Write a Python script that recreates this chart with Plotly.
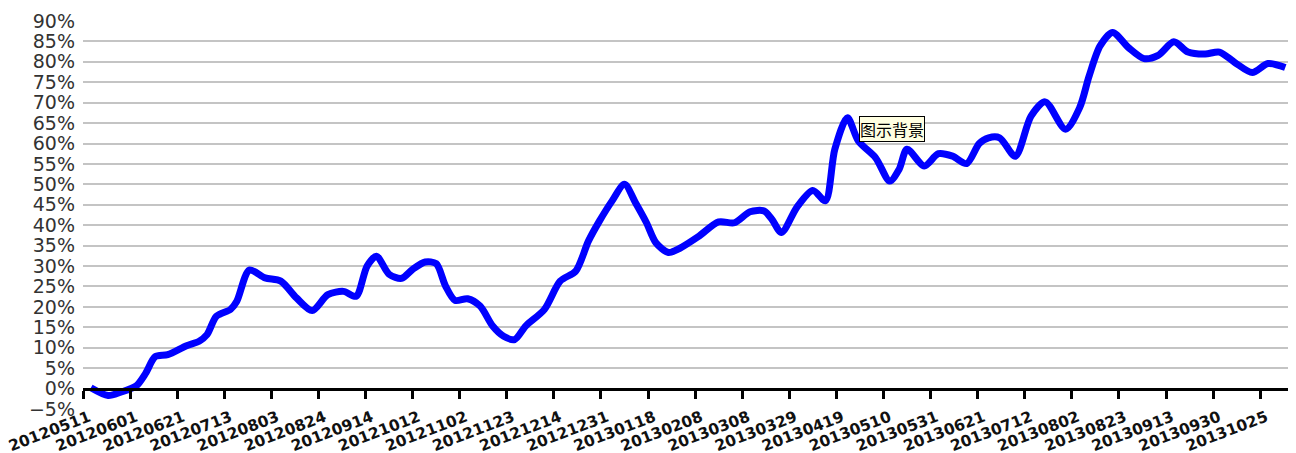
import plotly.graph_objects as go

# Trading-day index of each sampled point and its cumulative return (%)
day_index = [2.5, 8, 12, 17, 20, 23, 27, 33, 37, 39.5, 42.5, 47, 49, 53, 58, 63, 68, 73, 78, 83,
             87, 90.5, 93.5, 97.5, 101.5, 105, 109, 112.5, 115.5, 118.5, 122.5, 126.5, 130.5, 134,
             137.5, 141, 147, 152, 157, 161, 164.5, 168.5, 172.5, 176, 179.5, 182.5, 186.5, 190,
             196, 202.5, 207.5, 212.5, 217, 219.5, 222.5, 227.5, 232.5, 236.5, 239.5, 243.5, 247,
             252.5, 257, 260, 262.5, 268, 272.5, 277, 281.5, 285.5, 288.5, 292, 297, 302, 306.5,
             313, 317.5, 320.5, 324, 328, 333, 338, 342.5, 347.5, 352, 357.5, 362, 367, 372.5,
             377.5, 383]
pct = [0.2, -1.7, -0.9, 0.7, 3.8, 7.8, 8.3, 10.5, 11.6, 13.2, 17.7, 19.4, 21.4, 29.0, 27.1, 26.3,
       22.2, 19.1, 23.0, 23.8, 22.6, 30.0, 32.4, 28.0, 27.0, 29.2, 31.0, 30.6, 25.1, 21.6, 22.0,
       20.2, 15.3, 12.8, 12.0, 15.3, 19.4, 26.3, 28.8, 36.1, 41.0, 45.9, 50.0, 45.5, 40.6, 35.7,
       33.3, 34.3, 37.2, 40.8, 40.6, 43.3, 43.5, 41.4, 38.2, 44.5, 48.5, 46.0, 58.6, 66.3, 60.6,
       56.5, 50.8, 53.7, 58.6, 54.5, 57.5, 56.9, 55.1, 60.0, 61.4, 61.4, 56.9, 66.7, 70.2, 63.5,
       68.8, 76.5, 83.9, 87.2, 83.5, 80.8, 81.6, 84.9, 82.4, 81.9, 82.4, 79.8, 77.4, 79.6, 78.6]

tick_labels = ["20120511", "20120601", "20120621", "20120713", "20120803", "20120824",
               "20120914", "20121012", "20121102", "20121123", "20121214", "20121231",
               "20130118", "20130208", "20130308", "20130329", "20130419", "20130510",
               "20130531", "20130621", "20130712", "20130802", "20130823", "20130913",
               "20130930", "20131025"]
days_per_tick = 15
tick_vals = [i * days_per_tick for i in range(len(tick_labels))]

fig = go.Figure()
fig.add_trace(go.Scatter(
    x=day_index, y=pct, mode="lines",
    line=dict(color="#0000ff", width=7, shape="spline", smoothing=0.8),
    hoverinfo="skip", showlegend=False,
))

y_min, y_max = -5, 90
fig.update_layout(
    width=1296, height=453,
    margin=dict(l=75, r=14, t=13, b=51.5),
    paper_bgcolor="white", plot_bgcolor="white",
    font=dict(family="DejaVu Sans", color="#222222"),
    xaxis=dict(
        range=[0, 384.5], tickmode="array", tickvals=tick_vals, ticktext=tick_labels,
        tickangle=-21, tickfont=dict(family="DejaVu Sans", size=15.5, color="#111111", weight="bold"),
        showgrid=False, zeroline=False, automargin=False, ticklabeloverflow="allow",
        ticklabelshift=6, ticklabelstandoff=4,
        showline=True, linecolor="black", linewidth=3,
        ticks="outside", ticklen=8, tickwidth=3, tickcolor="black",
        anchor="free", position=(0 - y_min) / (y_max - y_min),
    ),
    yaxis=dict(
        range=[y_min, y_max], dtick=5, tick0=0, ticksuffix="%",
        tickfont=dict(family="DejaVu Sans", size=19, color="#333333"),
        showgrid=True, gridcolor="#c4c4c4", gridwidth=2, automargin=False,
        zeroline=False, showline=False, ticks="", ticklabelstandoff=7,
    ),
    annotations=[dict(
        text="图示背景", xref="paper", yref="paper", x=0.643, y=0.756,
        xanchor="left", yanchor="top", showarrow=False,
        font=dict(family="Noto Sans CJK SC", size=16, color="black"),
        bgcolor="#ffffe1", bordercolor="black", borderwidth=1, borderpad=0,
    )],
)

fig.write_html("out.html")
